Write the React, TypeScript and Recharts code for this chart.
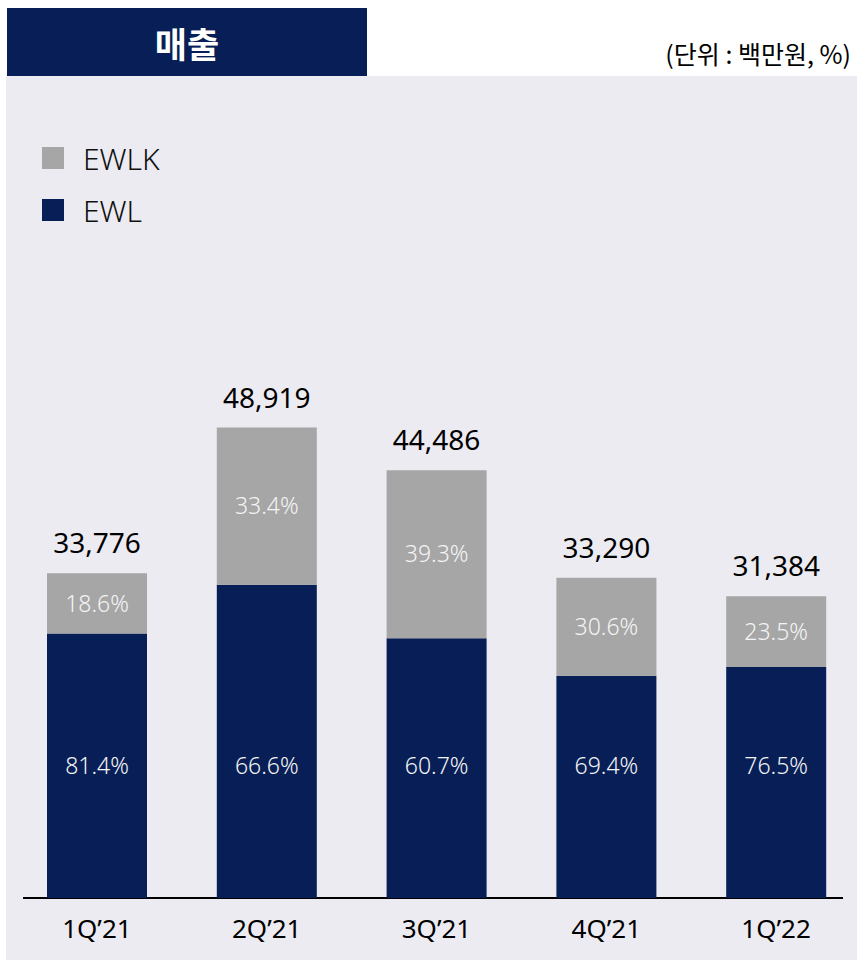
import React from "react";
import { BarChart, Bar, XAxis, YAxis, LabelList } from "recharts";

const categories = ["1Q’21", "2Q’21", "3Q’21", "4Q’21", "1Q’22"];
const totals = [33776, 48919, 44486, 33290, 31384];
const ewlValues = [27494, 32580, 27003, 23103, 24009];
const ewlkValues = [6282, 16339, 17483, 10187, 7375];
const ewlShare = ["81.4%", "66.6%", "60.7%", "69.4%", "76.5%"];
const ewlkShare = ["18.6%", "33.4%", "39.3%", "30.6%", "23.5%"];

const NAVY = "#071F56";
const GRAY = "#A6A6A6";
const FONT = "'Noto Sans', 'Noto Sans CJK KR', sans-serif";
const KFONT = "'Noto Sans CJK KR', sans-serif";

const legendItems = [
    { name: "EWLK", color: GRAY },
    { name: "EWL", color: NAVY },
];

const data = categories.map((cat, i) => ({
    cat,
    ewl: ewlValues[i],
    ewlk: ewlkValues[i],
    total: totals[i].toLocaleString("en-US"),
    ewlPct: ewlShare[i],
    ewlkPct: ewlkShare[i],
}));

// EWL share labels sit at a fixed height above the baseline
function EwlLabel(props: any) {
    const { x, y, width, height, value } = props;
    return (
        <text
            x={x + width / 2}
            y={y + height - 133}
            textAnchor="middle"
            dominantBaseline="central"
            fill="#F4F4F4"
            fontSize={23}
            fontWeight={300}
            fontFamily={FONT}
        >
            {value}
        </text>
    );
}

export default function App() {
    return (
        <div
            style={{
                position: "relative",
                width: 857,
                height: 963,
                overflow: "hidden",
                background: "#fff",
                fontFamily: FONT,
            }}
        >
            <style>{"body{margin:0}"}</style>
            <div
                style={{
                    position: "absolute",
                    left: 7,
                    top: 8,
                    width: 360,
                    height: 68,
                    background: NAVY,
                    color: "#fff",
                    fontSize: 35,
                    fontWeight: 700,
                    fontFamily: KFONT,
                    display: "flex",
                    alignItems: "center",
                    justifyContent: "center",
                }}
            >
                매출
            </div>
            <div
                style={{
                    position: "absolute",
                    right: 6,
                    top: 36,
                    fontSize: 25,
                    fontWeight: 400,
                    color: "#000",
                    lineHeight: "34px",
                    fontFamily: KFONT,
                }}
            >
                (단위 : 백만원, %)
            </div>
            <div
                style={{
                    position: "absolute",
                    left: 6,
                    top: 76,
                    width: 851,
                    height: 884,
                    background: "#ECEBF2",
                }}
            />
            {legendItems.map((item, i) => (
                <div
                    key={item.name}
                    style={{
                        position: "absolute",
                        left: 42,
                        top: 142 + i * 52,
                        height: 32,
                        display: "flex",
                        alignItems: "center",
                        fontSize: 30,
                        fontWeight: 300,
                        color: "#111",
                    }}
                >
                    <span
                        style={{
                            width: 22,
                            height: 22,
                            background: item.color,
                            display: "inline-block",
                            marginRight: 19,
                        }}
                    />
                    {item.name}
                </div>
            ))}
            <div
                style={{
                    position: "absolute",
                    left: 23,
                    top: 897,
                    width: 820,
                    height: 1.5,
                    background: "#000",
                }}
            />
            <div style={{ position: "absolute", left: 0, top: 0 }}>
                <BarChart
                    width={861}
                    height={963}
                    data={data}
                    margin={{ top: 321, right: 0, bottom: 35, left: 12 }}
                >
                    <XAxis
                        dataKey="cat"
                        axisLine={false}
                        tickLine={false}
                        tickSize={0}
                        tickMargin={22}
                        interval={0}
                        tick={{ fill: "#000", fontSize: 26, fontWeight: 400, fontFamily: FONT }}
                    />
                    <YAxis hide domain={[0, 60000]} />
                    <Bar dataKey="ewl" stackId="a" fill={NAVY} barSize={100} isAnimationActive={false}>
                        <LabelList dataKey="ewlPct" content={<EwlLabel />} />
                    </Bar>
                    <Bar dataKey="ewlk" stackId="a" fill={GRAY} barSize={100} isAnimationActive={false}>
                        <LabelList
                            dataKey="ewlkPct"
                            position="center"
                            fill="#F4F4F4"
                            fontSize={23}
                            fontWeight={300}
                            fontFamily={FONT}
                        />
                        <LabelList
                            dataKey="total"
                            position="top"
                            offset={20}
                            fill="#000"
                            fontSize={28}
                            fontFamily={FONT}
                        />
                    </Bar>
                </BarChart>
            </div>
        </div>
    );
}
